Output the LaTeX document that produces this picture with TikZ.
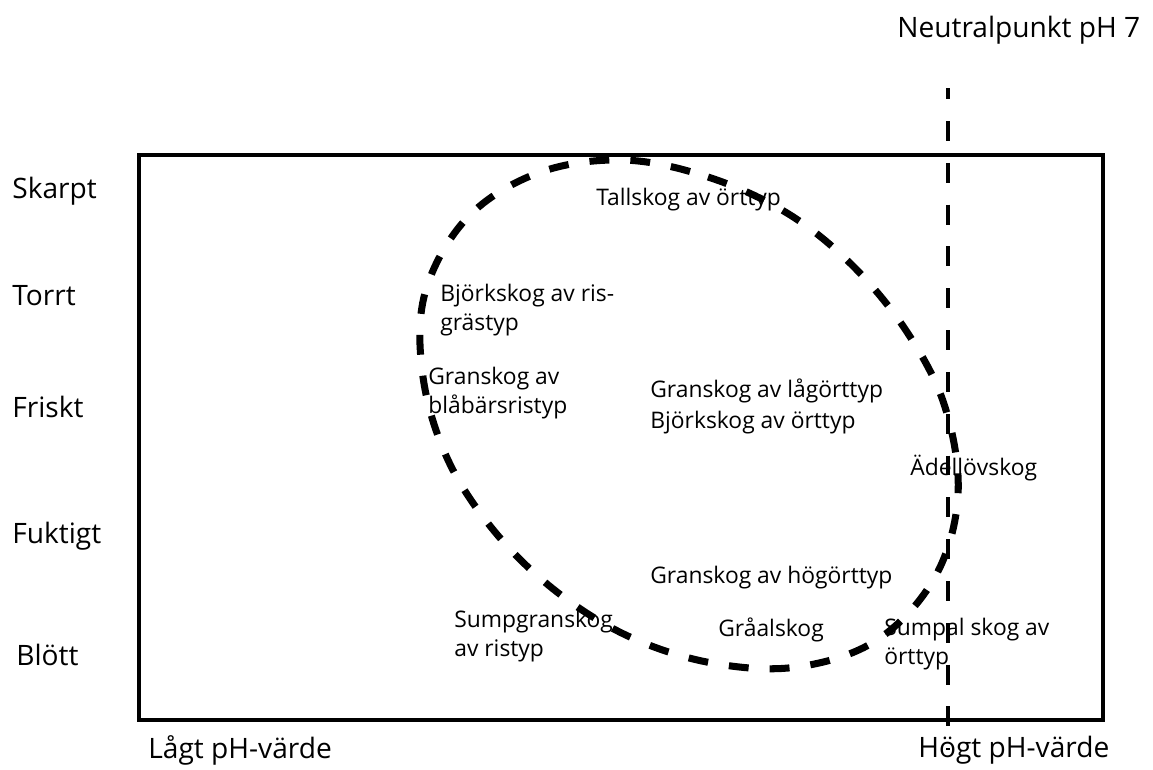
\documentclass[tikz,border=0pt]{standalone}
\usepackage{fontspec}
\setmainfont{Open Sans}
\begin{document}
\begin{tikzpicture}[x=0.02cm, y=-0.02cm, every node/.style={inner sep=0pt, anchor=west}]
  \tikzstyle{axislabel}=[font=\fontsize{16}{19}\selectfont]
  \tikzstyle{forest}=[font=\fontsize{13}{17}\selectfont, align=left]
  \useasboundingbox (0,0) rectangle (1153,769);
  % frame and the pH 7 line
  \draw[line width=2.8pt] (139,155) rectangle (1103,720);
  \coordinate (ntop) at (948,88);
  \coordinate (nbot) at (948,750);
  \draw[line width=2pt, dash pattern=on 11.3pt off 12.5pt, dash phase=5pt] (ntop) -- (nbot);
  % the forest ring
  \draw[line width=4pt, dash pattern=on 11.3pt off 12pt]
    plot[smooth cycle, tension=0.6] coordinates {(623,160) (708,177) (787,213)
      (852,265) (907,332) (945,407) (958,495) (935,577) (877,640) (797,667)
      (712,663) (630,637) (557,592) (495,532) (448,460) (423,377) (425,293)
      (467,218) (538,173)};
  % axis texts
  \node[axislabel] (neutral) at (897,30)  {Neutralpunkt pH 7};
  \node[axislabel] (skarpt)  at (12,191)  {Skarpt};
  \node[axislabel] (torrt)   at (12,296)  {Torrt};
  \node[axislabel] (friskt)  at (12,407)  {Friskt};
  \node[axislabel] (fuktigt) at (12,536)  {Fuktigt};
  \node[axislabel] (blott)   at (16,655)  {Blött};
  \node[axislabel] (lagt)    at (148,750) {Lågt pH-värde};
  \node[axislabel] (hogt)    at (918,750) {Högt pH-värde};
  % forest types
  \node[forest] (tall)     at (596,200) {Tallskog av örttyp};
  \node[forest] (bjorkris) at (440,310) {Björkskog av ris-\\grästyp};
  \node[forest] (granbla)  at (428,393) {Granskog av\\blåbärsristyp};
  \node[forest] (granlag)  at (650,391) {Granskog av lågörttyp};
  \node[forest] (bjorkort) at (650,423) {Björkskog av örttyp};
  \node[forest] (adel)     at (910,468) {Ädellövskog};
  \node[forest] (granhog)  at (650,578) {Granskog av högörttyp};
  \node[forest] (sumpgran) at (454,636) {Sumpgranskog\\av ristyp};
  \node[forest] (graal)    at (718,630) {Gråalskog};
  \node[forest] (sumpal)   at (884,644) {Sumpal skog av\\örttyp};
\end{tikzpicture}
\end{document}
